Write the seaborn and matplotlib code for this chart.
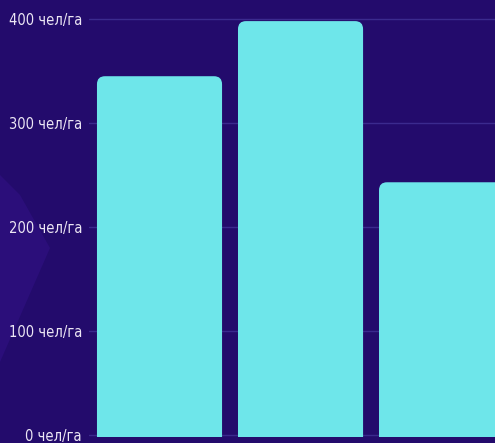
import matplotlib
matplotlib.use("Agg")
import matplotlib.pyplot as plt
import seaborn as sns
import pandas as pd
from matplotlib.patches import FancyBboxPatch, Polygon

categories = ["A", "B", "C"]
values = [345, 398, 243]
yticks = [0, 100, 200, 300, 400]
tick_labels = [f"{v} чел/га" for v in yticks]

BG = "#230b6c"
BAR = "#6ee6ea"
GRID = "#3b2a8e"
TXT = "#ece6f4"

sns.set_theme(style="dark")
plt.rcParams["font.family"] = ["DejaVu Sans"]

W, H = 495, 443
fig = plt.figure(figsize=(W / 100, H / 100), dpi=100)
fig.patch.set_facecolor(BG)

# decorative lighter shape at the left
poly = Polygon([(0 / W, 1 - 362 / H), (50 / W, 1 - 248 / H), (20 / W, 1 - 195 / H), (0 / W, 1 - 175 / H)],
               closed=True, transform=fig.transFigure, facecolor="#3a1496",
               edgecolor="none", alpha=0.35, zorder=-5)
fig.patches.append(poly)

ax = fig.add_axes([89 / W, 6 / H, 406 / W, 437 / H])
ax.set_facecolor("none")
ax.set_zorder(2)

df = pd.DataFrame({"cat": categories, "val": values})
sns.barplot(data=df, x="cat", y="val", color=BAR, width=0.887, saturation=1, ax=ax, zorder=3)

xlim = (-0.5, 2.379)
ylim = (-2, 418.3)
ax.set_xlim(*xlim)
ax.set_ylim(*ylim)

# replace bars with rounded-top bars
px_per_x = 406 / (xlim[1] - xlim[0])
px_per_y = 437 / (ylim[1] - ylim[0])
r_px = 8
for p in list(ax.patches):
    x, y = p.get_x(), p.get_y()
    w, h = p.get_width(), p.get_height()
    p.remove()
    rx = r_px / px_per_x
    aspect = px_per_x / px_per_y
    fb = FancyBboxPatch((x, y - 30), w, h + 30,
                        boxstyle=f"round,pad=0,rounding_size={rx}",
                        mutation_aspect=aspect, facecolor=BAR, edgecolor="none",
                        zorder=3, clip_on=True)
    ax.add_patch(fb)

ax.set_yticks(yticks)
ax.set_yticklabels(tick_labels, color=TXT, fontsize=10.5, fontstretch="condensed")
ax.tick_params(axis="y", length=0, pad=5)
ax.set_xticks([])
ax.set_xlabel("")
ax.set_ylabel("")
ax.grid(axis="y", color=GRID, linewidth=1, zorder=0)
ax.grid(axis="x", visible=False)
for s in ax.spines.values():
    s.set_visible(False)

fig.savefig("out.png", dpi=100, facecolor=BG)
